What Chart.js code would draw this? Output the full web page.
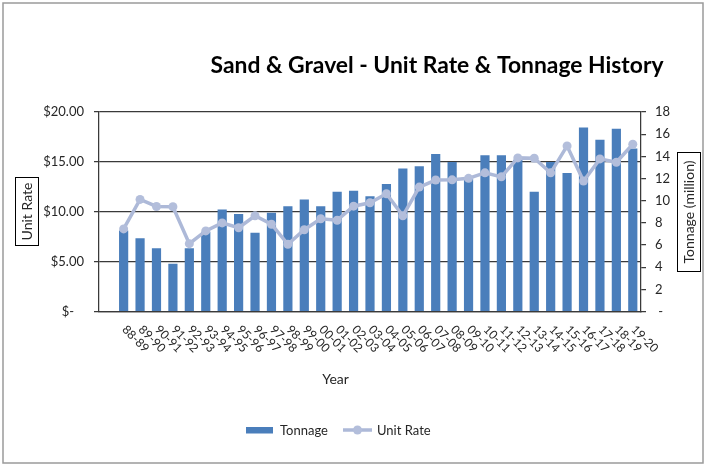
<!DOCTYPE html>
<html>
<head>
<meta charset="utf-8">
<script src="https://cdn.jsdelivr.net/npm/chart.js@4.4.1/dist/chart.umd.min.js"></script>
<style>
  html, body { margin: 0; padding: 0; background: #fff; }
  #wrap { width: 707px; height: 467px; }
</style>
</head>
<body>
<div id="wrap"><canvas id="chart" width="707" height="467"></canvas></div>
<script>
const years = [
  "88-89", "89-90", "90-91", "91-92", "92-93", "93-94", "94-95", "95-96",
  "96-97", "97-98", "98-99", "99-00", "00-01", "01-02", "02-03", "03-04",
  "04-05", "05-06", "06-07", "07-08", "08-09", "09-10", "10-11", "11-12",
  "12-13", "13-14", "14-15", "15-16", "16-17", "17-18", "18-19", "19-20",
];
// million tonnes, right axis
const tonnage = [
  7.3, 6.6, 5.7, 4.3, 5.7, 7.2, 9.2, 8.8, 7.1, 8.9, 9.5, 10.1, 9.5, 10.8, 10.9, 10.4,
  11.5, 12.9, 13.1, 14.2, 13.5, 12.0, 14.1, 14.1, 13.7, 10.8, 13.5, 12.5, 16.6, 15.5, 16.5, 14.7,
];
// $ per tonne, left axis
const unitRate = [
  8.28, 11.24, 10.53, 10.5, 6.8, 8.08, 8.88, 8.4, 9.6, 8.75, 6.74, 8.2, 9.3, 9.15, 10.56, 10.9,
  11.8, 9.59, 12.47, 13.18, 13.2, 13.35, 13.9, 13.5, 15.4, 15.36, 13.9, 16.6, 13.08, 15.3, 14.96, 16.77,
];
const rateTicks = ["$-   ", "$5.00", "$10.00", "$15.00", "$20.00"];
const tonnageTicks = [" -", "2", "4", "6", "8", "10", "12", "14", "16", "18"];

const FONT = "Lato, 'Open Sans', sans-serif";
const AXIS_DARK = "#3a3a3a";
const TEXT = "#262626";
const BAR_BLUE = "#4a7ebb";
const LINE_BLUE = "#adb9d8";

// excel leaves one empty category in front of the data
const categories = [""].concat(years);

const decorations = {
  id: "decorations",
  afterDraw(chart) {
    const ctx = chart.ctx;
    const x = chart.scales.x;
    ctx.save();

    // outer frame
    ctx.strokeStyle = "#9a9a9a";
    ctx.lineWidth = 1.5;
    ctx.strokeRect(3, 3, 700, 460);

    // title, sized to the reference width
    const title = "Sand & Gravel - Unit Rate & Tonnage History";
    ctx.font = "bold 20px " + FONT;
    const size = 20 * 453 / ctx.measureText(title).width;
    ctx.font = "bold " + size.toFixed(2) + "px " + FONT;
    ctx.fillStyle = "#000";
    ctx.textAlign = "left";
    ctx.textBaseline = "alphabetic";
    ctx.fillText(title, 210.5, 72.5);

    // boxed axis titles
    ctx.strokeStyle = "#000";
    ctx.lineWidth = 1;
    ctx.strokeRect(15.5, 177.5, 23, 68);
    ctx.strokeRect(677.5, 152.5, 23, 119);
    ctx.fillStyle = TEXT;
    ctx.font = "14px " + FONT;
    ctx.textAlign = "center";
    ctx.textBaseline = "middle";
    ctx.save();
    ctx.translate(27.5, 211.5);
    ctx.rotate(-Math.PI / 2);
    ctx.fillText("Unit Rate", 0, 0);
    ctx.restore();
    ctx.save();
    ctx.translate(689.5, 212);
    ctx.rotate(-Math.PI / 2);
    ctx.fillText("Tonnage (million)", 0, 0);
    ctx.restore();

    // category labels turned 45 degrees clockwise
    ctx.font = "12px " + FONT;
    ctx.textAlign = "left";
    ctx.textBaseline = "middle";
    categories.forEach((label, i) => {
      if (!label) return;
      ctx.save();
      ctx.translate(x.getPixelForValue(i) + 0.5, 327.5);
      ctx.rotate(Math.PI / 4);
      ctx.fillText(label, 0, 0);
      ctx.restore();
    });

    // x axis title
    ctx.font = "14px " + FONT;
    ctx.textAlign = "center";
    ctx.textBaseline = "alphabetic";
    ctx.fillText("Year", 335.5, 383.5);

    // legend
    const bars = chart.data.datasets[1];
    const line = chart.data.datasets[0];
    ctx.font = "13px " + FONT;
    ctx.textAlign = "left";
    ctx.fillStyle = bars.backgroundColor;
    ctx.fillRect(246, 427, 27, 6.5);
    ctx.fillStyle = TEXT;
    ctx.fillText(bars.label, 280, 434.5);
    ctx.strokeStyle = line.borderColor;
    ctx.lineWidth = line.borderWidth;
    ctx.beginPath();
    ctx.moveTo(343, 430);
    ctx.lineTo(372, 430);
    ctx.stroke();
    ctx.fillStyle = line.pointBackgroundColor;
    ctx.beginPath();
    ctx.arc(357.5, 430, line.pointRadius, 0, Math.PI * 2);
    ctx.fill();
    ctx.fillStyle = TEXT;
    ctx.fillText(line.label, 377, 434.5);

    ctx.restore();
  },
};

new Chart(document.getElementById("chart"), {
  data: {
    labels: categories,
    datasets: [
      {
        type: "line",
        label: "Unit Rate",
        data: [null].concat(unitRate),
        yAxisID: "y",
        borderColor: LINE_BLUE,
        borderWidth: 3.5,
        pointRadius: 4.5,
        pointBackgroundColor: "#b3bedb",
        pointBorderWidth: 0,
        tension: 0,
        order: 0,
      },
      {
        type: "bar",
        label: "Tonnage",
        data: [null].concat(tonnage),
        yAxisID: "y1",
        backgroundColor: BAR_BLUE,
        barPercentage: 0.56,
        categoryPercentage: 1,
        order: 1,
      },
    ],
  },
  options: {
    responsive: false,
    animation: false,
    layout: { padding: { top: 112, left: 0, right: 0, bottom: 0 } },
    plugins: {
      legend: { display: false },
      title: { display: false },
      tooltip: { enabled: false },
    },
    scales: {
      x: {
        grid: { display: false },
        border: { display: true, color: AXIS_DARK, width: 1.25 },
        ticks: { display: false },
        afterFit(scale) {
          scale.height = 155.5;
        },
      },
      y: {
        position: "left",
        min: 0,
        max: 20,
        ticks: {
          stepSize: 5,
          padding: 10,
          color: TEXT,
          font: { family: FONT, size: 13 },
          callback: (value, index) => rateTicks[index],
        },
        grid: { color: AXIS_DARK, lineWidth: 1.25, tickLength: 5 },
        border: { display: true, color: AXIS_DARK, width: 1.25 },
        afterFit(scale) {
          scale.width = 99;
        },
      },
      y1: {
        position: "right",
        min: 0,
        max: 18,
        ticks: {
          stepSize: 2,
          padding: 9,
          color: TEXT,
          font: { family: FONT, size: 13 },
          callback: (value, index) => tonnageTicks[index],
        },
        grid: { drawOnChartArea: false, color: AXIS_DARK, lineWidth: 1.25, tickLength: 5 },
        border: { display: true, color: AXIS_DARK, width: 1.25 },
        afterFit(scale) {
          scale.width = 66;
        },
      },
    },
  },
  plugins: [decorations],
});
</script>
</body>
</html>
